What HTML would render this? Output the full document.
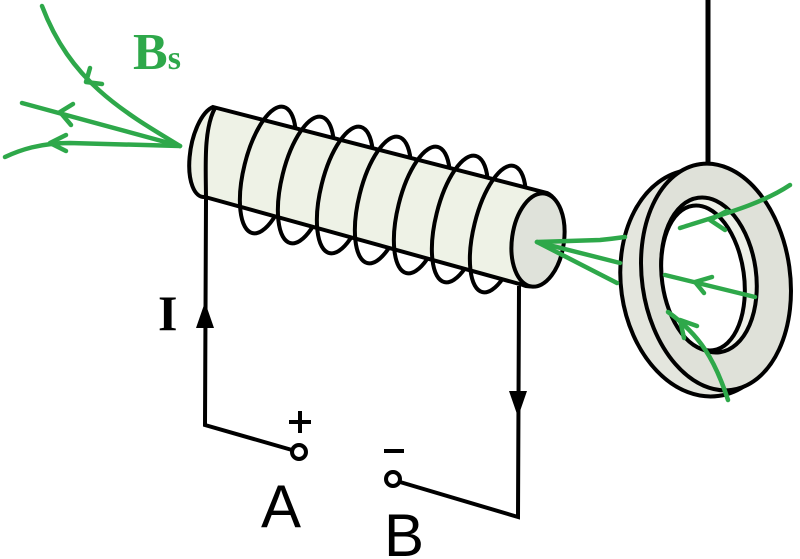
<!DOCTYPE html>
<html><head><meta charset="utf-8"><style>
html,body{margin:0;padding:0;background:#fff;}
svg{display:block}
</style></head><body>
<svg width="800" height="559" viewBox="0 0 800 559" xmlns="http://www.w3.org/2000/svg">
<defs>
<clipPath id="body"><path d="M213,107 L547,193 A26 47 10 0 1 523,285 L205,197 A20 46 10 0 1 213,107 Z"/></clipPath>
</defs>
<g fill="none" stroke="#000" stroke-width="4">
  <g>
    <ellipse cx="268" cy="170" rx="24" ry="65" transform="rotate(14 268 170)"/>
    <ellipse cx="306" cy="180" rx="24" ry="65" transform="rotate(14 306 180)"/>
    <ellipse cx="345" cy="190" rx="24" ry="65" transform="rotate(14 345 190)"/>
    <ellipse cx="383" cy="200" rx="24" ry="65" transform="rotate(14 383 200)"/>
    <ellipse cx="422" cy="210" rx="24" ry="65" transform="rotate(14 422 210)"/>
    <ellipse cx="460" cy="219" rx="24" ry="65" transform="rotate(14 460 219)"/>
    <ellipse cx="498" cy="229" rx="24" ry="65" transform="rotate(14 498 229)"/>
  </g>
  <path d="M213,107 L547,193 A26 47 10 0 1 523,285 L205,197 A20 46 10 0 1 213,107 Z" fill="#eef2e6"/>
  <ellipse cx="538" cy="240" rx="26" ry="47" transform="rotate(8 538 240)" fill="#dfe2da"/>
  <g clip-path="url(#body)">
    <g transform="translate(268,170) rotate(14)"><path d="M0,-65 A24 65 0 0 0 0,65"/></g>
    <g transform="translate(306,180) rotate(14)"><path d="M0,-65 A24 65 0 0 0 0,65"/></g>
    <g transform="translate(345,190) rotate(14)"><path d="M0,-65 A24 65 0 0 0 0,65"/></g>
    <g transform="translate(383,200) rotate(14)"><path d="M0,-65 A24 65 0 0 0 0,65"/></g>
    <g transform="translate(422,210) rotate(14)"><path d="M0,-65 A24 65 0 0 0 0,65"/></g>
    <g transform="translate(460,219) rotate(14)"><path d="M0,-65 A24 65 0 0 0 0,65"/></g>
    <g transform="translate(498,229) rotate(14)"><path d="M0,-65 A24 65 0 0 0 0,65"/></g>
  </g>
  <path d="M215,108 C203,130 206,170 206,200 L205,425 L292,450"/>
  <path d="M519,286 L518,517 L400,482"/>
  <circle cx="299" cy="452" r="7" fill="#fff"/>
  <circle cx="393" cy="479" r="7" fill="#fff"/>
  <path d="M300,411 V433 M289,422 H311 M384,451 H404"/>
  <line x1="708" y1="0" x2="708" y2="166" stroke-width="5"/>
  <ellipse cx="703" cy="283" rx="82" ry="114" fill="#e4e6de" transform="rotate(-8 703 283)"/>
  <ellipse cx="716" cy="277" rx="74" ry="114" fill="#dfe1d9" transform="rotate(-8 716 277)"/>
  <ellipse cx="709" cy="275" rx="47" ry="78" fill="#eef0e8" transform="rotate(-8 709 275)"/>
  <ellipse cx="703" cy="278" rx="41" ry="73" fill="#fff" transform="rotate(-8 703 278)"/>
</g>
<path d="M205,302 L196,328 L214,328 Z" fill="#000"/>
<path d="M518,417 L509,391 L527,391 Z" fill="#000"/>
<g fill="none" stroke="#2ea84a" stroke-width="4.5" stroke-linecap="round">
  <path d="M180,146 C120,110 70,80 42,6"/>
  <path d="M180,146 L22,103"/>
  <path d="M180,146 L70,143 C40,143 20,150 5,157"/>
  <path d="M86,82 L90,68 M86,82 L102,84"/>
  <path d="M60,112 L73,104 M60,112 L71,125"/>
  <path d="M50,143 L66,135 M50,143 L66,151"/>
  <path d="M537,242 L600,240 C610,239 618,238 625,237"/>
  <path d="M537,242 L620,263"/>
  <path d="M537,242 L617,283"/>
  <path d="M790,185 C760,205 720,215 680,228"/>
  <path d="M710,220 L727,211 M710,220 L725,230"/>
  <path d="M755,297 L665,275"/>
  <path d="M695,282 L712,277 M695,282 L704,293"/>
  <path d="M728,400 C715,360 700,335 668,312"/>
  <path d="M680,320 L697,326 M680,320 L684,338"/>
</g>
<text x="133" y="69" font-family="Liberation Serif, serif" font-weight="bold" font-size="52" fill="#2ea84a">B<tspan font-size="34">s</tspan></text>
<text x="158" y="330" font-family="Liberation Serif, serif" font-weight="bold" font-size="50" fill="#000">I</text>
<text x="261" y="527" font-family="Liberation Sans, sans-serif" font-size="60" fill="#000">A</text>
<text x="384" y="556" font-family="Liberation Sans, sans-serif" font-size="60" fill="#000">B</text>
</svg>
</body></html>
